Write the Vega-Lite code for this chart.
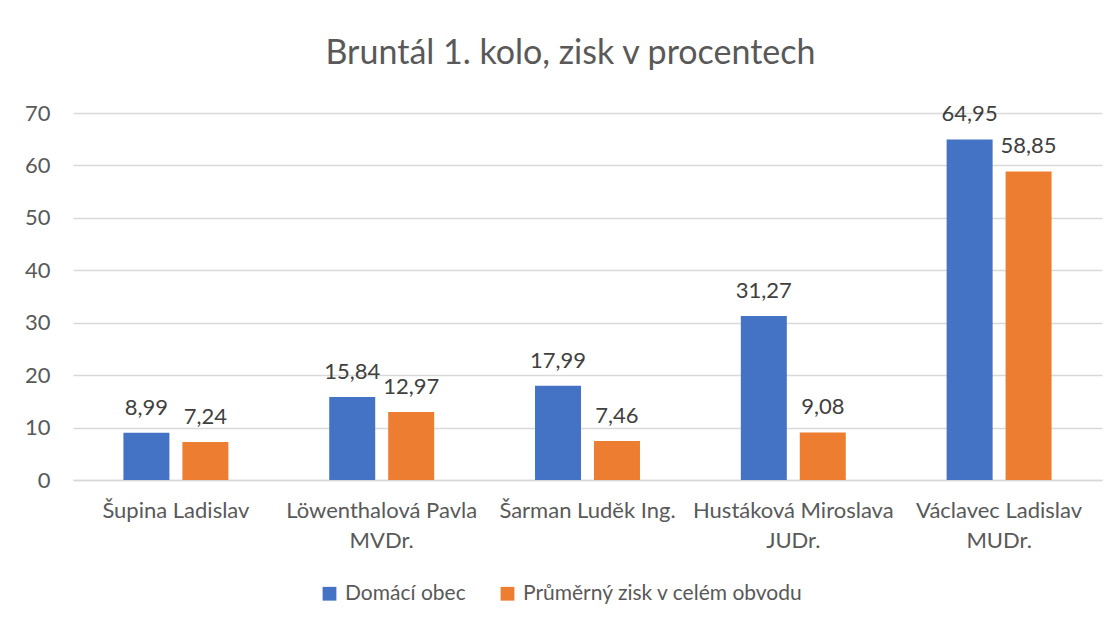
{
  "$schema": "https://vega.github.io/schema/vega-lite/v6.json",
  "width": 1029,
  "height": 367,
  "autosize": {"type": "none"},
  "padding": {"left": 73, "top": 113, "right": 13, "bottom": 144},
  "background": "white",
  "title": {
    "text": "Bruntál 1. kolo, zisk v procentech",
    "anchor": "middle",
    "frame": "group",
    "dx": -17,
    "baseline": "alphabetic",
    "offset": 4,
    "fontSize": 34,
    "font": "Lato",
    "fontWeight": "normal",
    "color": "#595959"
  },
  "data": {
    "values": [
      {"kandidat": "Šupina Ladislav", "series": "Domácí obec", "value": 8.99},
      {"kandidat": "Šupina Ladislav", "series": "Průměrný zisk v celém obvodu", "value": 7.24},
      {"kandidat": "Löwenthalová Pavla MVDr.", "series": "Domácí obec", "value": 15.84},
      {"kandidat": "Löwenthalová Pavla MVDr.", "series": "Průměrný zisk v celém obvodu", "value": 12.97},
      {"kandidat": "Šarman Luděk Ing.", "series": "Domácí obec", "value": 17.99},
      {"kandidat": "Šarman Luděk Ing.", "series": "Průměrný zisk v celém obvodu", "value": 7.46},
      {"kandidat": "Hustáková Miroslava JUDr.", "series": "Domácí obec", "value": 31.27},
      {"kandidat": "Hustáková Miroslava JUDr.", "series": "Průměrný zisk v celém obvodu", "value": 9.08},
      {"kandidat": "Václavec Ladislav MUDr.", "series": "Domácí obec", "value": 64.95},
      {"kandidat": "Václavec Ladislav MUDr.", "series": "Průměrný zisk v celém obvodu", "value": 58.85}
    ]
  },
  "encoding": {
    "x": {
      "field": "kandidat",
      "type": "nominal",
      "sort": null,
      "scale": {"paddingInner": 0.49, "paddingOuter": 0.245},
      "axis": {
        "title": null,
        "labelAngle": 0,
        "ticks": false,
        "domain": true,
        "domainColor": "#D9D9D9",
        "domainWidth": 1.3,
        "labelFont": "Lato",
        "labelFontSize": 22,
        "labelColor": "#595959",
        "labelPadding": 20,
        "labelBaseline": "top",
        "labelLineHeight": 30,
        "labelLimit": 0,
        "labelExpr": "split(replace(replace(replace(datum.label, ' MVDr.', '|MVDr.'), ' JUDr.', '|JUDr.'), ' MUDr.', '|MUDr.'), '|')"
      }
    },
    "xOffset": {
      "field": "series",
      "type": "nominal",
      "sort": ["Domácí obec", "Průměrný zisk v celém obvodu"],
      "scale": {"paddingInner": 0.22, "paddingOuter": 0}
    },
    "y": {
      "field": "value",
      "type": "quantitative",
      "scale": {"domain": [0, 70], "nice": false},
      "axis": {
        "title": null,
        "values": [0, 10, 20, 30, 40, 50, 60, 70],
        "ticks": false,
        "domain": false,
        "grid": true,
        "gridColor": "#D9D9D9",
        "gridWidth": 1.3,
        "labelFont": "Lato",
        "labelFontSize": 22,
        "labelColor": "#595959",
        "labelPadding": 23
      }
    }
  },
  "layer": [
    {
      "mark": {"type": "bar"},
      "encoding": {
        "color": {
          "field": "series",
          "type": "nominal",
          "scale": {
            "domain": ["Domácí obec", "Průměrný zisk v celém obvodu"],
            "range": ["#4472C4", "#ED7D31"]
          },
          "legend": {
            "title": null,
            "orient": "none",
            "direction": "horizontal",
            "legendX": 246,
            "legendY": 470,
            "symbolType": "square",
            "symbolSize": 190,
            "symbolStrokeWidth": 0,
            "symbolOpacity": 1,
            "labelFont": "Lato",
            "labelFontSize": 21,
            "labelColor": "#595959",
            "labelOffset": 5,
            "columnPadding": 31,
            "labelLimit": 0
          }
        }
      }
    },
    {
      "mark": {
        "type": "text",
        "baseline": "alphabetic",
        "dy": -18,
        "font": "Lato",
        "fontSize": 22,
        "color": "#404040"
      },
      "encoding": {
        "text": {"field": "value", "type": "quantitative", "format": ".2f"}
      }
    }
  ],
  "config": {
    "view": {"stroke": null},
    "locale": {
      "number": {"decimal": ",", "thousands": " ", "grouping": [3], "currency": ["", " Kč"]}
    }
  }
}
